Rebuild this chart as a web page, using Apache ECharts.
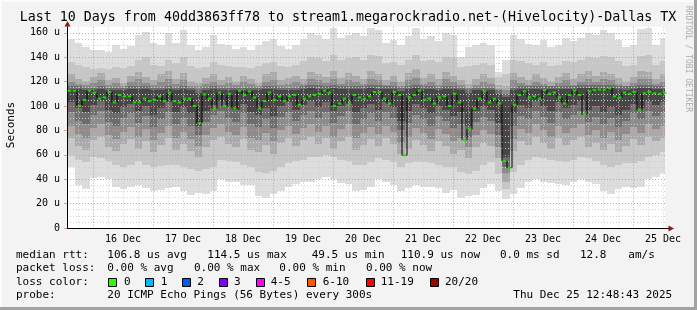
<!DOCTYPE html>
<html><head><meta charset="utf-8">
<script src="https://cdn.jsdelivr.net/npm/echarts@6/dist/echarts.min.js"></script>
<style>html,body{margin:0;padding:0;background:#f3f3f3}#c{width:697px;height:310px}</style>
</head><body><div id="c"></div>
<script>
// ---------- data (hours are counted from 16 Dec 00:00) ----------
const dayLabels = ['16 Dec','17 Dec','18 Dec','19 Dec','20 Dec','21 Dec','22 Dec','23 Dec','24 Dec','25 Dec'];
const yTickValues = [0,20,40,60,80,100,120,140,160];
const xMin = -10.4, xMax = 228.8;

// median rtt (microseconds), one value every 2 hours
const medianStart = -9.4, medianStep = 2;
const medianRtt = [
 112.6,112.6,100,105,112.6,111,106,107,111.5,103,109,108,108,103,103,106,104,105,108,104,111,104,103,106,
 106,100,86,109.5,106,98,111,100,110,98,112.6,109,112,107,98,104,111,105,108,104,108,109,101,106,
 108,109,110,112.6,111,100,102,106,102,109,107,106,108,111.5,111.5,106,102,111.5,109,59.6,107,109,112.6,105,
 106,102,107,108,100,110,103,72.4,81,98,106,112,103,106,102,55,49.5,101,109,112,107,108,106,113,
 110,111,107,102,109,112.6,109,93,112,113,113.5,113.5,114.5,108,107,111,110,111.5,96.5,110.5,111.5,110.5,110,110.9
];

// smoke (ping spread), one column every 3 hours; bands from outermost (max/min) to innermost
const smokeStart = -10.4, smokeStep = 3;
const smokeMax = [155,152,148,146,146,144,150,147,149,158,161,152,150,160,152,162,150,146,148,158,151,150,147,148,146,150,153,155,149,147,150,155,160,158,155,164,156,158,160,157,164,162,152,154,150,157,164,155,157,153,160,158,140,148,150,152,150,128,138,158,155,151,150,154,148,150,156,153,156,160,158,162,160,154,148,150,163,164,150,156];
const smokeHi2 = [136,134,132,130,131,130,132,131,133,138,140,134,133,138,135,140,133,131,132,136,134,133,132,132,131,133,135,136,133,132,134,137,140,139,137,142,138,139,140,138,142,141,135,136,134,138,142,137,138,136,140,139,132,133,134,135,134,124,126,138,137,135,134,136,133,134,137,136,138,140,139,141,140,137,133,134,141,142,134,137];
const smokeHi3 = [126,122,120,124,127,121,123,119,125,128,124,121,126,129,122,127,120,119,123,126,121,124,120,125,122,119,126,128,121,123,125,122,128,126,124,129,123,127,125,122,129,126,121,125,120,127,130,123,126,122,128,125,121,118,122,126,123,117,116,127,124,121,126,123,120,124,127,122,126,129,125,128,126,123,120,124,129,128,122,126];
const smokeHi4 = [120,118,117,119,121,117,119,116,120,122,119,117,120,122,118,121,116,116,118,120,117,119,117,120,118,116,120,121,117,118,120,118,122,121,119,122,118,121,120,118,122,121,117,120,116,121,123,118,120,117,122,120,117,115,117,120,118,114,113,121,119,117,120,118,116,119,121,117,120,122,120,122,121,118,116,119,122,122,118,120];
const smokeHi5 = [116,116,115,115,116,115,115,115,116,116,116,115,115,116,115,116,115,114,115,116,115,115,115,115,115,115,116,116,115,115,115,116,117,117,116,117,116,116,116,116,117,117,116,116,115,116,117,116,116,115,116,116,115,114,115,115,115,113,110,115,116,116,116,116,116,116,116,116,117,117,117,117,117,116,116,116,117,117,116,116];
const smokeHi6 = [114,114,113,113,114,113,113,113,114,114,114,113,113,114,113,114,113,111,113,114,113,113,113,113,113,113,114,114,113,113,113,114,115,114,114,115,114,114,114,114,115,114,114,114,112,114,115,114,114,113,114,114,113,111,113,113,113,110,107,113,114,114,114,114,114,114,114,114,115,115,115,115,115,114,113,114,115,115,114,114];
const smokeLo6 = [103,98,95,101,104,97,94,99,102,96,100,93,98,103,95,99,94,84,96,101,104,99,97,102,95,93,98,92,100,103,97,101,104,99,103,96,100,104,95,98,102,97,103,99,88,96,102,98,94,100,97,92,95,84,96,100,97,86,58,94,101,98,104,100,96,103,98,101,104,97,100,95,99,93,97,102,98,104,101,103];
const smokeLo5 = [95,88,85,93,96,87,84,90,94,86,92,83,89,95,85,90,84,76,87,93,96,90,87,94,85,83,89,82,91,95,88,93,96,90,95,86,92,96,85,89,94,88,95,90,80,86,93,89,84,92,88,82,85,75,87,91,88,76,50,84,92,89,96,91,86,95,89,93,96,87,91,85,90,83,88,94,89,96,92,95];
const smokeLo4 = [84,77,74,82,85,76,73,79,83,75,81,72,78,84,74,79,73,67,76,82,85,79,76,83,74,72,78,71,80,84,77,82,85,79,84,75,81,85,74,78,83,77,84,79,70,75,82,78,73,81,77,71,74,66,76,80,77,66,44,73,81,78,85,80,75,84,78,82,85,76,80,74,79,72,77,83,78,85,81,84];
const smokeLo3 = [74,67,64,72,75,66,63,69,73,65,71,62,68,74,64,69,63,58,66,72,75,69,66,73,64,62,68,61,70,74,67,72,75,69,74,65,71,75,64,68,73,67,74,69,61,65,72,68,63,71,67,61,64,57,66,70,67,57,38,63,71,68,75,70,65,74,68,72,75,66,70,64,69,62,67,73,68,75,71,74];
const smokeLo2 = [60,56,54,58,57,55,52,50,52,55,52,50,51,52,52,50,48,47,48,50,56,55,54,52,50,46,45,47,50,53,55,56,58,58,60,58,56,55,52,52,54,57,56,54,50,53,54,54,53,52,50,50,46,44,47,52,54,44,32,46,52,56,58,57,56,55,54,56,58,57,55,52,50,52,53,53,55,58,60,62];
const smokeMin = [50,35,32,41,42,40,34,32,34,35,33,30,31,33,34,30,27,29,28,30,40,38,38,35,35,26,25,28,30,34,36,38,38,40,42,40,37,36,30,31,34,40,38,35,30,33,35,34,34,33,29,31,25,26,27,33,36,30,24,28,33,38,40,38,37,36,35,38,40,38,36,30,28,32,34,33,34,40,42,45];

// legend
const lossLabels = ['0','1','2','3','4-5','6-10','11-19','20/20'];
const lossColors = ['#26ff00','#00b8ff','#0059ff','#7e00ff','#ff00ff','#ff5500','#ff0000','#a10000'];
const bandColors = ['#dddddd','#c6c6c6','#aaaaaa','#8c8c8c','#6c6c6c','#474747'];

// ---------- build ----------
const FONT = 'DejaVu Sans Mono';
const medianData = medianRtt.map((v, j) => [medianStart + j * medianStep, v]);
const smokeData = smokeMax.map((_, k) => [smokeStart + k * smokeStep,
  smokeMin[k], smokeLo2[k], smokeLo3[k], smokeLo4[k], smokeLo5[k], smokeLo6[k],
  smokeHi6[k], smokeHi5[k], smokeHi4[k], smokeHi3[k], smokeHi2[k], smokeMax[k]]);
const NB = bandColors.length;

const minorX = [], midnightX = [];
for (let h = -6; h <= xMax; h += 6) { if (h % 24 === 0) midnightX.push(h); else minorX.push(h); }
const minorY = [];
for (let v = 5; v < 165; v += 5) if (v % 20 !== 0) minorY.push(v);
const noonX = dayLabels.map((_, i) => 12 + 24 * i);

const gridDot = [1, 2];
const GL = 67, GT = 26.7, GR = 32, GB = 82;
const chart = echarts.init(document.getElementById('c'), null, {renderer: 'canvas'});

const texts = [];
function T(x, y, s) {
  texts.push({type: 'text', x: x, y: y, z: 50,
    style: {text: s, fill: '#000', font: '11px "' + FONT + '"', verticalAlign: 'middle', align: 'left'}});
}
const r1 = 255, r2 = 268.5, r3 = 282, r4 = 295.5;
T(16, r1, 'median rtt:'); T(107.3, r1, '106.8 us avg'); T(207.3, r1, '114.5 us max'); T(311.7, r1, '49.5 us min');
T(400.7, r1, '110.9 us now'); T(500, r1, '0.0 ms sd'); T(580, r1, '12.8'); T(628.3, r1, 'am/s');
T(16, r2, 'packet loss:'); T(107.3, r2, '0.00 % avg'); T(194, r2, '0.00 % max'); T(279.3, r2, '0.00 % min'); T(366, r2, '0.00 % now');
T(16, r3, 'loss color:');
const boxX = [108.5, 145.5, 182.5, 219.5, 256.5, 307.5, 366.5, 430.5];
const labX = [124, 160.7, 197.3, 234, 270.7, 322.7, 380.7, 445];
const boxes = [];
lossLabels.forEach((l, i) => {
  boxes.push({type: 'rect', z: 50, shape: {x: boxX[i], y: 278.5, width: 8, height: 8},
    style: {fill: lossColors[i], stroke: '#000', lineWidth: 1}});
  T(labX[i], r3, l);
});
T(16, r4, 'probe:'); T(107.3, r4, '20 ICMP Echo Pings (56 Bytes) every 300s'); T(513.3, r4, 'Thu Dec 25 12:48:43 2025');

const graphics = [
  {type: 'rect', z: -1, silent: true, shape: {x: GL, y: GT, width: 697 - GL - GR, height: 310 - GT - GB}, style: {fill: '#ffffff'}},
  {type: 'rect', z: 60, shape: {x: 0, y: 0, width: 697, height: 2}, style: {fill: '#fbfbfb'}},
  {type: 'rect', z: 60, shape: {x: 0, y: 0, width: 2, height: 310}, style: {fill: '#fbfbfb'}},
  {type: 'rect', z: 60, shape: {x: 694, y: 0, width: 3, height: 310}, style: {fill: '#a2a2a2'}},
  {type: 'rect', z: 60, shape: {x: 0, y: 307, width: 697, height: 3}, style: {fill: '#a2a2a2'}},
  {type: 'text', z: 50, x: 348, y: 18, style: {text: 'Last 10 Days from 40dd3863ff78 to stream1.megarockradio.net-(Hivelocity)-Dallas TX',
    fill: '#000', font: '13.3px "' + FONT + '"', align: 'center', verticalAlign: 'middle'}},
  {type: 'text', z: 50, x: 11, y: 125, rotation: Math.PI / 2, style: {text: 'Seconds', fill: '#000',
    font: '11px "' + FONT + '"', align: 'center', verticalAlign: 'middle'}},
  {type: 'text', z: 50, x: 688.5, y: 59, rotation: -Math.PI / 2, style: {text: 'RRDTOOL / TOBI OETIKER', fill: '#ababab',
    font: '8px "' + FONT + '"', align: 'center', verticalAlign: 'middle'}},
  {type: 'line', z: 55, shape: {x1: 665, y1: 228.5, x2: 669, y2: 228.5}, style: {stroke: '#000', lineWidth: 1}},
  {type: 'polygon', z: 56, shape: {points: [[674, 228.5], [668.5, 225.5], [668.5, 231.5]]}, style: {fill: '#8b1a1a'}},
  {type: 'polygon', z: 56, shape: {points: [[67.5, 21], [64.5, 26.5], [70.5, 26.5]]}, style: {fill: '#8b1a1a'}}
].concat(boxes, texts);

const axisFont = {fontFamily: FONT, fontSize: 10, color: '#000'};

chart.setOption({
  animation: false,
  backgroundColor: '#f3f3f3',
  grid: {left: GL, top: GT, right: GR, bottom: GB, show: false},
  xAxis: [
    {type: 'value', min: xMin, max: xMax, z: 4,
     axisLine: {show: true, onZero: false, lineStyle: {color: '#000', width: 1}},
     axisTick: {show: false, customValues: minorX},
     axisLabel: Object.assign({customValues: noonX, margin: 6, formatter: v => dayLabels[Math.round((v - 12) / 24)] || ''}, axisFont),
     splitLine: {show: true, lineStyle: {color: '#cfcfcf', type: gridDot, width: 1}}},
    {type: 'value', min: xMin, max: xMax, z: 4, position: 'bottom',
     axisLine: {show: false, onZero: false}, axisTick: {show: false, customValues: midnightX},
     axisLabel: {show: false},
     splitLine: {show: true, lineStyle: {color: '#e58f8f', type: gridDot, width: 1}}}
  ],
  yAxis: [
    {type: 'value', min: 0, max: 165, z: 4, position: 'left',
     axisLine: {show: true, onZero: false, lineStyle: {color: '#000'}},
     axisTick: {show: true, length: 3, customValues: yTickValues, lineStyle: {color: '#d9a0a0'}},
     axisLabel: Object.assign({customValues: yTickValues, margin: 7, formatter: v => v === 0 ? '0' : v + ' u'}, axisFont),
     splitLine: {show: true, lineStyle: {color: '#e58f8f', type: gridDot, width: 1}}},
    {type: 'value', min: 0, max: 165, z: 3, position: 'left',
     axisLine: {show: false, onZero: false}, axisTick: {show: false, customValues: minorY}, axisLabel: {show: false},
     splitLine: {show: true, lineStyle: {color: '#cfcfcf', type: gridDot, width: 1}}}
  ],
  series: [
    {type: 'custom', xAxisIndex: 0, yAxisIndex: 0, z: 1, silent: true, data: smokeData,
     encode: {x: 0, y: [1, 12]},
     renderItem: function (params, api) {
       const cs = params.coordSys;
       const x0 = api.value(0), x1 = x0 + smokeStep;
       const children = [];
       for (let b = 0; b < NB; b++) {
         const lo = api.value(1 + b), hi = api.value(2 * NB - b);
         const p0 = api.coord([x0, hi]), p1 = api.coord([x1, lo]);
         const left = Math.max(Math.round(p0[0]), cs.x), right = Math.min(Math.round(p1[0]), cs.x + cs.width);
         const top = Math.max(Math.round(p0[1]), cs.y), bottom = Math.round(p1[1]);
         if (right > left) children.push({type: 'rect', shape: {x: left, y: top, width: right - left, height: bottom - top},
           style: {fill: bandColors[b]}});
       }
       return {type: 'group', children: children};
     }},
    {type: 'line', xAxisIndex: 0, yAxisIndex: 0, z: 6, data: medianData, step: 'middle', symbol: 'none',
     lineStyle: {color: '#000', width: 1}, silent: true},
    {type: 'scatter', xAxisIndex: 0, yAxisIndex: 0, z: 7, data: medianData, symbol: 'rect', symbolSize: [4, 2],
     itemStyle: {color: lossColors[0]}, silent: true}
  ],
  graphic: graphics
});
</script></body></html>
